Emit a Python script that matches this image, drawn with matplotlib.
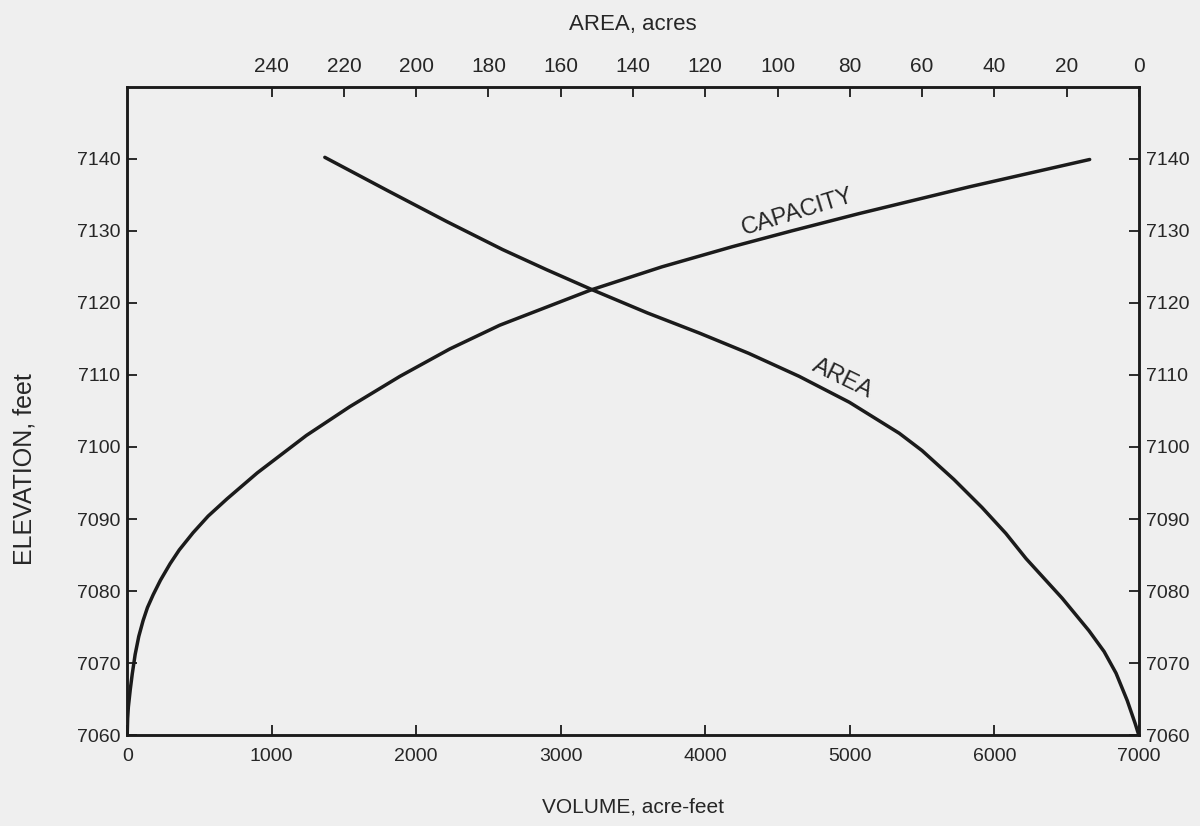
import matplotlib
matplotlib.use("Agg")
import matplotlib.pyplot as plt

# ---- data ----
volume = [0, 3, 8, 21, 35, 55, 80, 110, 140, 180, 230, 297, 360, 456, 560, 691,
          900, 1240, 1541, 1887, 2232, 2578, 3210, 3700, 4188, 4600, 5066, 5826, 6660]
capacity_elev = [7060, 7062.3, 7063.9, 7066.3, 7068.5, 7071.2, 7073.7, 7075.9,
                 7077.7, 7079.5, 7081.5, 7083.8, 7085.7, 7088.1, 7090.4, 7092.8,
                 7096.4, 7101.6, 7105.6, 7109.8, 7113.6, 7116.9, 7121.8, 7125.0,
                 7127.8, 7130.0, 7132.4, 7136.1, 7139.9]

area = [225.3, 208.0, 191.6, 176.1, 163.9, 151.2, 136.0, 121.6, 108.0, 94.0,
        80.1, 66.3, 60.0, 51.2, 43.4, 36.8, 31.2, 21.2, 13.8, 9.6, 6.3, 3.2, 1.0, 0]
area_elev = [7140.2, 7135.6, 7131.3, 7127.4, 7124.6, 7121.8, 7118.6, 7115.8,
             7113.0, 7109.8, 7106.2, 7101.9, 7099.5, 7095.5, 7091.6, 7088.0,
             7084.5, 7079.0, 7074.5, 7071.6, 7068.6, 7064.8, 7061.6, 7060]

volume_ticks = [0, 1000, 2000, 3000, 4000, 5000, 6000, 7000]
area_ticks = [0, 20, 40, 60, 80, 100, 120, 140, 160, 180, 200, 220, 240]
elev_ticks = [7060, 7070, 7080, 7090, 7100, 7110, 7120, 7130, 7140]

# ---- style ----
BG = "#efefef"
INK = "#1b1b1b"
TXT = "#262626"
plt.rcParams["font.family"] = ["Liberation Sans", "DejaVu Sans"]

fig = plt.figure(figsize=(12, 8.26), dpi=100, facecolor=BG)
ax = fig.add_axes([0.106, 0.110, 0.843, 0.785], facecolor=BG)

ax.plot(volume, capacity_elev, color=INK, lw=2.5, solid_capstyle="round",
        solid_joinstyle="round")
ax.set_xlim(0, 7000)
ax.set_ylim(7060, 7150)
ax.set_xticks(volume_ticks)
ax.set_yticks(elev_ticks)
ax.tick_params(axis="both", direction="in", length=7, width=1.3, colors=INK,
               labelcolor=TXT, labelsize=14, right=True, labelright=True)
ax.tick_params(axis="x", pad=9, labelsize=14)
ax.tick_params(axis="y", pad=5)
for s in ax.spines.values():
    s.set_linewidth(1.8)
    s.set_color(INK)

ax.set_xlabel("VOLUME, acre-feet", fontsize=15, color=TXT, labelpad=24)
ax.set_ylabel("ELEVATION, feet", fontsize=18, color=TXT)
ax.yaxis.set_label_coords(-0.090, 0.41)

ax2 = ax.twiny()
ax2.plot(area, area_elev, color=INK, lw=2.5, solid_capstyle="round",
         solid_joinstyle="round")
ax2.set_xlim(280, 0)
ax2.set_xticks(area_ticks)
ax2.tick_params(axis="x", direction="in", length=7, width=1.3, colors=INK,
                labelcolor=TXT, labelsize=15, pad=8)
for s in ax2.spines.values():
    s.set_linewidth(1.8)
    s.set_color(INK)
ax2.set_xlabel("AREA, acres", fontsize=16, color=TXT, labelpad=19)

ax.text(4640, 7132.6, "CAPACITY", rotation=17, fontsize=17, color=TXT,
        ha="center", va="center", rotation_mode="anchor")
ax2.text(82.0, 7109.5, "AREA", rotation=-26, fontsize=17, color=TXT,
         ha="center", va="center", rotation_mode="anchor")

fig.savefig("out.png", dpi=100, facecolor=BG)
